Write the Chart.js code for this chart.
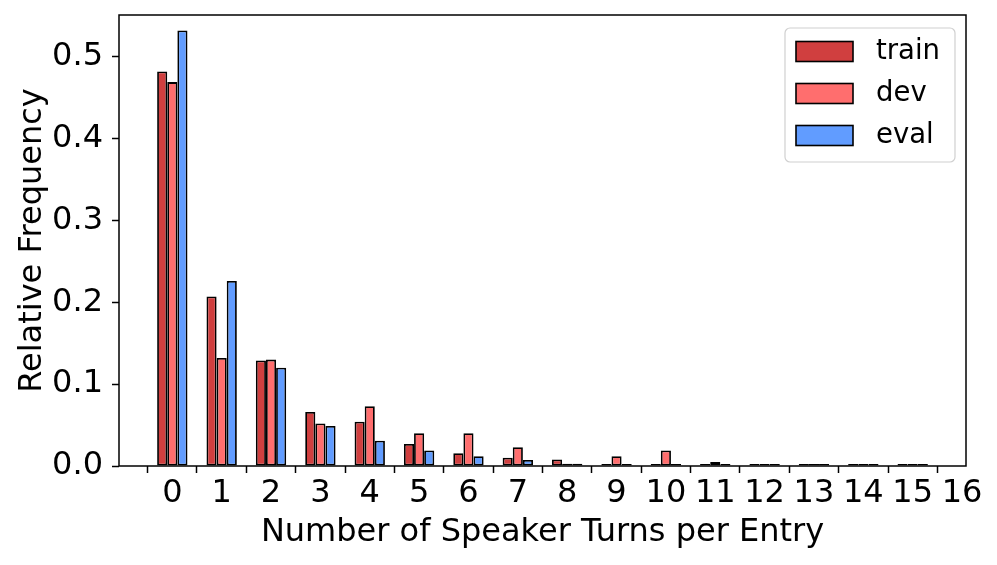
<!DOCTYPE html>
<html>
<head>
<meta charset="utf-8">
<script src="https://cdn.jsdelivr.net/npm/chart.js@4/dist/chart.umd.min.js"></script>
<style>
  html, body { margin: 0; padding: 0; background: #fff; }
  #wrap { width: 997px; height: 565px; }
</style>
</head>
<body>
<div id="wrap"><canvas id="chart" width="997" height="565"></canvas></div>
<script>
const turns = [0, 1, 2, 3, 4, 5, 6, 7, 8, 9, 10, 11, 12, 13, 14, 15];
const trainFreq = [0.482, 0.207, 0.129, 0.066, 0.054, 0.027, 0.0155, 0.010, 0.008, 0.0025, 0.0015, 0.001, 0.0005, 0.0002, 0.0004, 0.0002];
const devFreq = [0.469, 0.132, 0.130, 0.052, 0.073, 0.040, 0.040, 0.023, 0.0028, 0.012, 0.019, 0.005, 0.0015, 0.0002, 0.0015, 0.0002];
const evalFreq = [0.532, 0.226, 0.120, 0.049, 0.031, 0.019, 0.012, 0.0073, 0.0028, 0.002, 0.002, 0.001, 0.0004, 0.0002, 0.0003, 0.0002];
const xTicks = [0, 1, 2, 3, 4, 5, 6, 7, 8, 9, 10, 11, 12, 13, 14, 15, 16];
const yTicks = [0, 0.1, 0.2, 0.3, 0.4, 0.5];

const FONT = "'DejaVu Sans', sans-serif";

function toPoints(vals) {
    return turns.map((t, i) => ({ x: t, y: vals[i] }));
}

// box round the plot area
const frame = {
    id: 'frame',
    afterDraw(chart) {
        const { ctx, chartArea: a } = chart;
        ctx.save();
        ctx.strokeStyle = '#000';
        ctx.lineWidth = 1.5;
        ctx.strokeRect(a.left, a.top, a.right - a.left, a.bottom - a.top);
        ctx.restore();
    }
};

// matplotlib-style legend in the upper right corner
const boxLegend = {
    id: 'boxLegend',
    afterDraw(chart) {
        const { ctx, chartArea: a } = chart;
        const w = 170, h = 134;
        const x0 = a.right - 11 - w, y0 = a.top + 13;
        ctx.save();
        ctx.beginPath();
        ctx.roundRect(x0, y0, w, h, 5);
        ctx.fillStyle = 'rgba(255,255,255,0.8)';
        ctx.fill();
        ctx.strokeStyle = '#d0d0d0';
        ctx.lineWidth = 1.2;
        ctx.stroke();

        ctx.font = '27.5px ' + FONT;
        ctx.textBaseline = 'middle';
        chart.data.datasets.forEach((ds, i) => {
            const cy = y0 + 23.5 + i * 42;
            ctx.fillStyle = ds.backgroundColor;
            ctx.fillRect(x0 + 11, cy - 10, 57, 20);
            ctx.strokeStyle = '#000';
            ctx.lineWidth = 1.6;
            ctx.strokeRect(x0 + 11, cy - 10, 57, 20);
            ctx.fillStyle = '#000';
            ctx.fillText(ds.label, x0 + 91, cy);
        });
        ctx.restore();
    }
};

new Chart(document.getElementById('chart'), {
    type: 'bar',
    data: {
        datasets: [
            { label: 'train', data: toPoints(trainFreq), backgroundColor: '#d03f3f' },
            { label: 'dev', data: toPoints(devFreq), backgroundColor: '#ff6e6e' },
            { label: 'eval', data: toPoints(evalFreq), backgroundColor: '#619cff' }
        ]
    },
    options: {
        responsive: false,
        animation: false,
        devicePixelRatio: 1,
        layout: { padding: { top: 15, right: 31, left: 0, bottom: 0 } },
        datasets: {
            bar: {
                borderColor: '#000',
                borderWidth: 1.8,
                borderSkipped: false,
                minBarLength: 2,
                categoryPercentage: 0.615,
                barPercentage: 1.0
            }
        },
        plugins: {
            legend: { display: false },
            tooltip: { enabled: false }
        },
        scales: {
            x: {
                type: 'linear',
                min: -1.08,
                max: 16.08,
                offset: false,
                grid: { drawOnChartArea: false, drawTicks: true, tickLength: 7, tickWidth: 1.5, tickColor: '#000' },
                border: { display: false },
                afterBuildTicks: s => { s.ticks = xTicks.map(v => ({ value: v })); },
                afterFit: s => { s.height = 99; s.paddingLeft = 0; s.paddingRight = 0; },
                ticks: {
                    color: '#000',
                    font: { family: FONT, size: 32 },
                    padding: 1,
                    maxRotation: 0,
                    autoSkip: false,
                    callback: v => String(v)
                },
                title: {
                    display: true,
                    text: 'Number of Speaker Turns per Entry',
                    color: '#000',
                    font: { family: FONT, size: 32 },
                    padding: { top: 0, bottom: 13 }
                }
            },
            y: {
                min: 0,
                max: 0.551,
                grid: { drawOnChartArea: false, drawTicks: true, tickLength: 7, tickWidth: 1.5, tickColor: '#000' },
                border: { display: false },
                afterBuildTicks: s => { s.ticks = yTicks.map(v => ({ value: v })); },
                afterFit: s => { s.width = 119; s.paddingTop = 0; s.paddingBottom = 0; },
                ticks: {
                    color: '#000',
                    font: { family: FONT, size: 32 },
                    padding: 9,
                    callback: v => Number(v).toFixed(1)
                },
                title: {
                    display: true,
                    text: 'Relative Frequency',
                    color: '#000',
                    font: { family: FONT, size: 32 },
                    padding: { top: 13, bottom: 0 }
                }
            }
        }
    },
    plugins: [frame, boxLegend]
});
</script>
</body>
</html>
